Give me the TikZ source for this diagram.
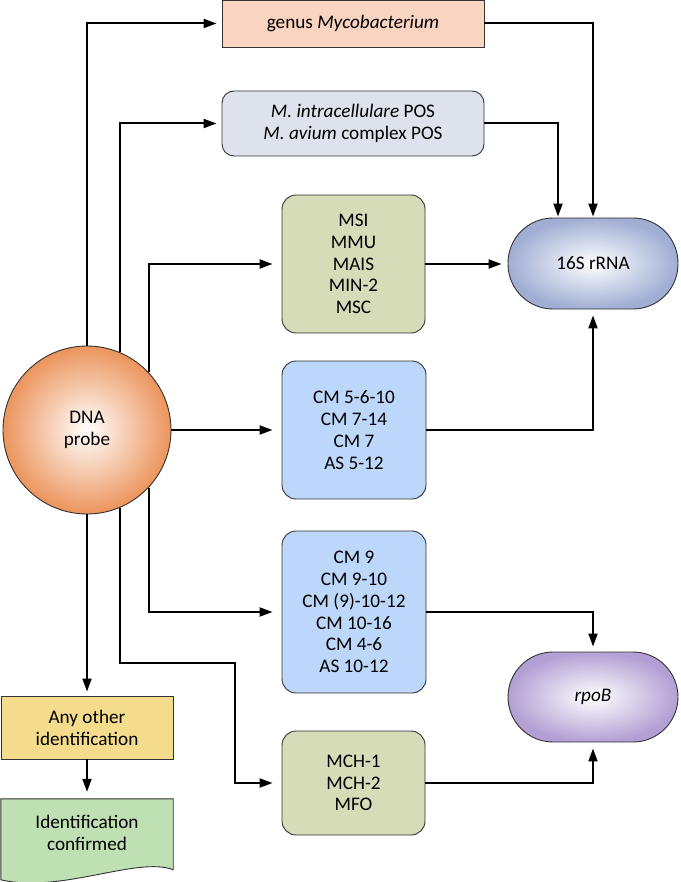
\documentclass[tikz,border=0pt]{standalone}
\usepackage{fontspec}
\setmainfont{Carlito}
\usetikzlibrary{arrows.meta}
\definecolor{cgenus}{RGB}{248,212,193}
\definecolor{cpos}{RGB}{222,226,237}
\definecolor{colive}{RGB}{214,219,184}
\definecolor{cblue}{RGB}{188,215,250}
\definecolor{cyellow}{RGB}{245,220,140}
\definecolor{cgreen}{RGB}{190,224,178}
\definecolor{cssu}{RGB}{160,174,212}
\definecolor{crpo}{RGB}{178,160,212}
\definecolor{cprobe}{RGB}{236,148,92}
\begin{document}
\begin{tikzpicture}[x=1pt,y=-1pt,
  txt/.style={font=\fontsize{19.2}{21.8}\selectfont, text=black, align=center, inner sep=0pt},
  box/.style={txt, draw=black!80, line width=0.9pt},
  rbox/.style={box, rounded corners=14pt},
  pill/.style={box, rounded corners=45pt, minimum width=170pt, minimum height=91pt},
  conn/.style={line width=2pt, -{Triangle[length=13pt,width=9pt]}, shorten >=6pt}
]
\useasboundingbox[fill=white] (0,0) rectangle (680,882);

% nodes
\node[box, fill=cgenus, minimum width=262pt, minimum height=47pt] (genus) at (353,23.5) {genus \textit{Mycobacterium}};
\node[box, rounded corners=12pt, fill=cpos, minimum width=262pt, minimum height=65pt] (pos) at (353,123.5)
  {\textit{M.~intracellulare} POS\\\textit{M.~avium} complex POS};
\node[rbox, fill=colive, minimum width=143pt, minimum height=138pt] (msi) at (353.5,264)
  {MSI\\MMU\\MAIS\\MIN-2\\MSC};
\node[rbox, fill=cblue, minimum width=144pt, minimum height=138pt] (cma) at (354,430)
  {CM 5-6-10\\CM 7-14\\CM 7\\AS 5-12};
\node[rbox, fill=cblue, minimum width=144pt, minimum height=162pt] (cmb) at (354,612)
  {CM 9\\CM 9-10\\CM (9)-10-12\\CM 10-16\\CM 4-6\\AS 10-12};
\node[rbox, fill=colive, minimum width=143pt, minimum height=104pt] (mch) at (353.5,783)
  {MCH-1\\MCH-2\\MFO};
\node[pill, inner color=white, outer color=cssu] (ssu) at (593,263.5) {16S rRNA};
\node[pill, inner color=white, outer color=crpo, minimum height=90pt] (rpob) at (593,697) {\textit{rpoB}};
\node[box, circle, inner color=white, outer color=cprobe, minimum size=168pt] (probe) at (87,430) {DNA\\probe};
\node[box, fill=cyellow, minimum width=172pt, minimum height=63pt] (other) at (87,727.5) {Any other\\identification};
\node[txt, minimum width=172pt, minimum height=68pt] (conf) at (87,833) {};
\draw[draw=black!80, line width=0.9pt, fill=cgreen]
  (conf.north west) -- (conf.north east) -- ++(0,71)
  .. controls ++(-35,-14) and ++(60,14) .. ([yshift=-81pt]conf.north west) -- cycle;
\node[txt] at (conf) {Identification\\confirmed};

% connectors from probe
\draw[conn, shorten >=5pt] (probe.north) |- (genus.west);
\draw[conn, shorten >=5pt] (probe.67.6) |- (pos.west);
\draw[conn, shorten >=9pt] (probe.43.4) |- (msi.west);
\draw[conn, shorten >=9pt] (probe.east) -- (cma.west);
\draw[conn, shorten >=9pt] (probe.-43.4) |- (cmb.west);
\coordinate (bend) at (235,663);
\draw[conn, shorten >=9pt] (probe.-67.6) |- (bend) |- (mch.west);
\draw[conn, shorten >=4pt] (probe.south) -- (other.north);
\draw[conn, shorten >=7pt] (other.south) -- (conf.north);

% connectors to targets
\draw[conn, shorten >=1pt] (genus.east) -| (ssu.north);
\draw[conn, shorten >=1pt] (pos.east) -| ([xshift=-35pt]ssu.north);
\draw[conn] (msi.east) -- (msi.east -| ssu.west);
\draw[conn] (cma.east) -| (ssu.south);
\draw[conn, shorten >=5pt] (cmb.east) -| (rpob.north);
\draw[conn] (mch.east) -| (rpob.south);
\end{tikzpicture}
\end{document}
